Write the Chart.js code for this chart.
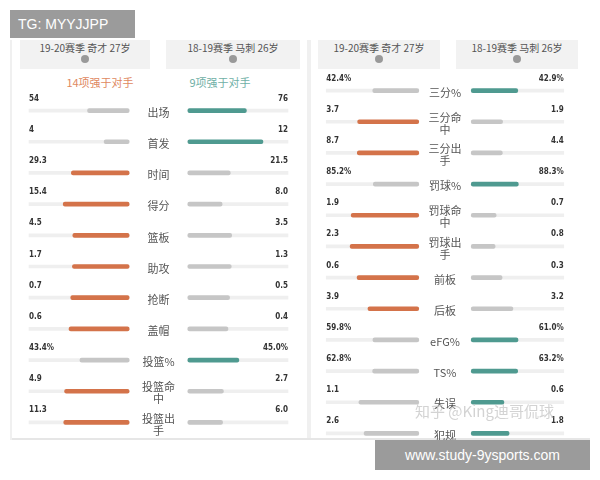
<html>
<head>
<script src="https://cdn.jsdelivr.net/npm/chart.js@4.4.0/dist/chart.umd.min.js"></script>
<style>
  body { margin:0; width:600px; height:480px; background:#fff; position:relative; font-family:"Noto Sans CJK SC","Noto Sans",sans-serif; overflow:hidden }
  .abs { position:absolute }
  .hdr { position:absolute; top:40px; height:28px; background:#f2f2f2; color:#555; font-size:10px; text-align:center; line-height:14px; padding-top:1px }
  .hdr i { display:inline-block; width:8px; height:8px; border-radius:4px; background:#999; font-style:normal }
  canvas { position:absolute }
</style>
<script>
  // left panel
  var catsA = [['出场'], ['首发'], ['时间'], ['得分'], ['篮板'], ['助攻'], ['抢断'], ['盖帽'], ['投篮%'], ['投篮命', '中'], ['投篮出', '手']]
  var wizA = [54, 4, 29.3, 15.4, 4.5, 1.7, 0.7, 0.6, 43.4, 4.9, 11.3]
  var spurA = [76, 12, 21.5, 8.0, 3.5, 1.3, 0.5, 0.4, 45.0, 2.7, 6.0]
  var wizTxtA = ['54', '4', '29.3', '15.4', '4.5', '1.7', '0.7', '0.6', '43.4%', '4.9', '11.3']
  var spurTxtA = ['76', '12', '21.5', '8.0', '3.5', '1.3', '0.5', '0.4', '45.0%', '2.7', '6.0']
  var winA = ['R', 'R', 'L', 'L', 'L', 'L', 'L', 'L', 'R', 'L', 'L']
  // right panel
  var catsB = [['三分%'], ['三分命', '中'], ['三分出', '手'], ['罚球%'], ['罚球命', '中'], ['罚球出', '手'], ['前板'], ['后板'], ['eFG%'], ['TS%'], ['失误'], ['犯规']]
  var wizB = [42.4, 3.7, 8.7, 85.2, 1.9, 2.3, 0.6, 3.9, 59.8, 62.8, 1.1, 2.6]
  var spurB = [42.9, 1.9, 4.4, 88.3, 0.7, 0.8, 0.3, 3.2, 61.0, 63.2, 0.6, 1.8]
  var wizTxtB = ['42.4%', '3.7', '8.7', '85.2%', '1.9', '2.3', '0.6', '3.9', '59.8%', '62.8%', '1.1', '2.6']
  var spurTxtB = ['42.9%', '1.9', '4.4', '88.3%', '0.7', '0.8', '0.3', '3.2', '61.0%', '63.2%', '0.6', '1.8']
  var winB = ['R', 'L', 'L', 'R', 'L', 'L', 'L', 'L', 'R', 'R', 'R', 'R']

  var ORANGE = '#d4734a', GREEN = '#4f9a90', GRAY = '#c6c6c6', TRACK = '#efefef'

  function makePanel(id, cats, lv, rv, lt, rt, win, gap, w) {
    var share = lv.map(function (v, i) { return v / (v + rv[i]) })
    var labels = cats.map(function (c) { return c.join('') })
    var textPlugin = {
      id: 'txt',
      afterDatasetsDraw: function (chart) {
        var ctx = chart.ctx, xs = chart.scales.x, ys = chart.scales.y
        ctx.save()
        cats.forEach(function (c, i) {
          var y = ys.getPixelForValue(i)
          ctx.fillStyle = '#333'
          ctx.font = 'bold 8px "Liberation Sans Narrow","DejaVu Sans Condensed",sans-serif'
          ctx.textBaseline = 'middle'
          ctx.textAlign = 'left'
          ctx.fillText(lt[i], xs.getPixelForValue(-gap - w), y - 12)
          ctx.textAlign = 'right'
          ctx.fillText(rt[i], xs.getPixelForValue(gap + w), y - 12)
          ctx.fillStyle = '#555'
          ctx.font = '11px "Noto Sans CJK SC",sans-serif'
          ctx.textAlign = 'center'
          var y0 = y + 2 - (c.length - 1) * 6
          c.forEach(function (s, k) { ctx.fillText(s, xs.getPixelForValue(0), y0 + k * 12) })
        })
        ctx.restore()
      }
    }
    new Chart(document.getElementById(id), {
      type: 'bar',
      data: {
        labels: labels,
        datasets: [
          { data: labels.map(function () { return [-gap - w, -gap] }), backgroundColor: TRACK, barThickness: 3, grouped: false, order: 2 },
          { data: labels.map(function () { return [gap, gap + w] }), backgroundColor: TRACK, barThickness: 3, grouped: false, order: 2 },
          { data: share.map(function (f) { return [-gap - f * w, -gap] }), backgroundColor: win.map(function (s) { return s == 'L' ? ORANGE : GRAY }), barThickness: 4, borderRadius: 2, borderSkipped: false, grouped: false, order: 1 },
          { data: share.map(function (f) { return [gap, gap + (1 - f) * w] }), backgroundColor: win.map(function (s) { return s == 'R' ? GREEN : GRAY }), barThickness: 4, borderRadius: 2, borderSkipped: false, grouped: false, order: 1 },
        ],
      },
      options: {
        indexAxis: 'y',
        responsive: false,
        animation: false,
        layout: { padding: { top: 12 } },
        plugins: { legend: { display: false }, tooltip: { enabled: false } },
        scales: {
          x: { display: false, min: -1, max: 1 },
          y: { display: false, offset: true },
        },
      },
      plugins: [textPlugin],
    })
  }
  function init() {
    makePanel('cA', catsA, wizA, spurA, wizTxtA, spurTxtA, winA, 0.22, 0.75)
    makePanel('cB', catsB, wizB, spurB, wizTxtB, spurTxtB, winB, 0.21, 0.74)
  }
</script>
</head>
<body onload="init()">
  <div class="abs" style="left:10px;top:40px;width:580px;height:400px;background:#fff"></div>
  <div class="abs" style="left:307px;top:40px;width:4px;height:400px;background:#f0f0f0"></div>
  <div class="abs" style="left:10px;top:438px;width:580px;height:2px;background:#e6e6e6"></div>
  <div class="abs" style="left:10px;top:40px;width:2px;height:400px;background:#f0f0f0"></div>
  <div class="hdr" style="left:20px;width:130px">19-20赛季 奇才 27岁<br><i></i></div>
  <div class="hdr" style="left:166px;width:134px">18-19赛季 马刺 26岁<br><i></i></div>
  <div class="hdr" style="left:318px;width:122px">19-20赛季 奇才 27岁<br><i></i></div>
  <div class="hdr" style="left:456px;width:122px">18-19赛季 马刺 26岁<br><i></i></div>
  <div class="abs" style="left:60px;top:74px;width:80px;text-align:center;font-size:11px;color:#e0895f">14项强于对手</div>
  <div class="abs" style="left:180px;top:74px;width:80px;text-align:center;font-size:11px;color:#6fb0a6">9项强于对手</div>
  <canvas id="cA" width="267" height="355" style="left:25px;top:83px"></canvas>
  <canvas id="cB" width="250" height="386" style="left:320px;top:63px"></canvas>
  <div class="abs" style="left:415px;top:400px;font-size:15px;color:rgba(200,200,200,0.8)">知乎 @King迪哥侃球</div>
  <div class="abs" style="left:10px;top:10px;width:125px;height:28px;background:#9b9b9b;color:#fff;font-size:14px;line-height:28px;padding-left:8px;box-sizing:border-box;font-family:'Liberation Sans',sans-serif">TG: MYYJJPP</div>
  <div class="abs" style="left:375px;top:440px;width:215px;height:30px;background:#9b9b9b;color:#fff;font-size:14px;line-height:30px;text-align:center;font-family:'Liberation Sans',sans-serif">www.study-9ysports.com</div>
</body>
</html>
